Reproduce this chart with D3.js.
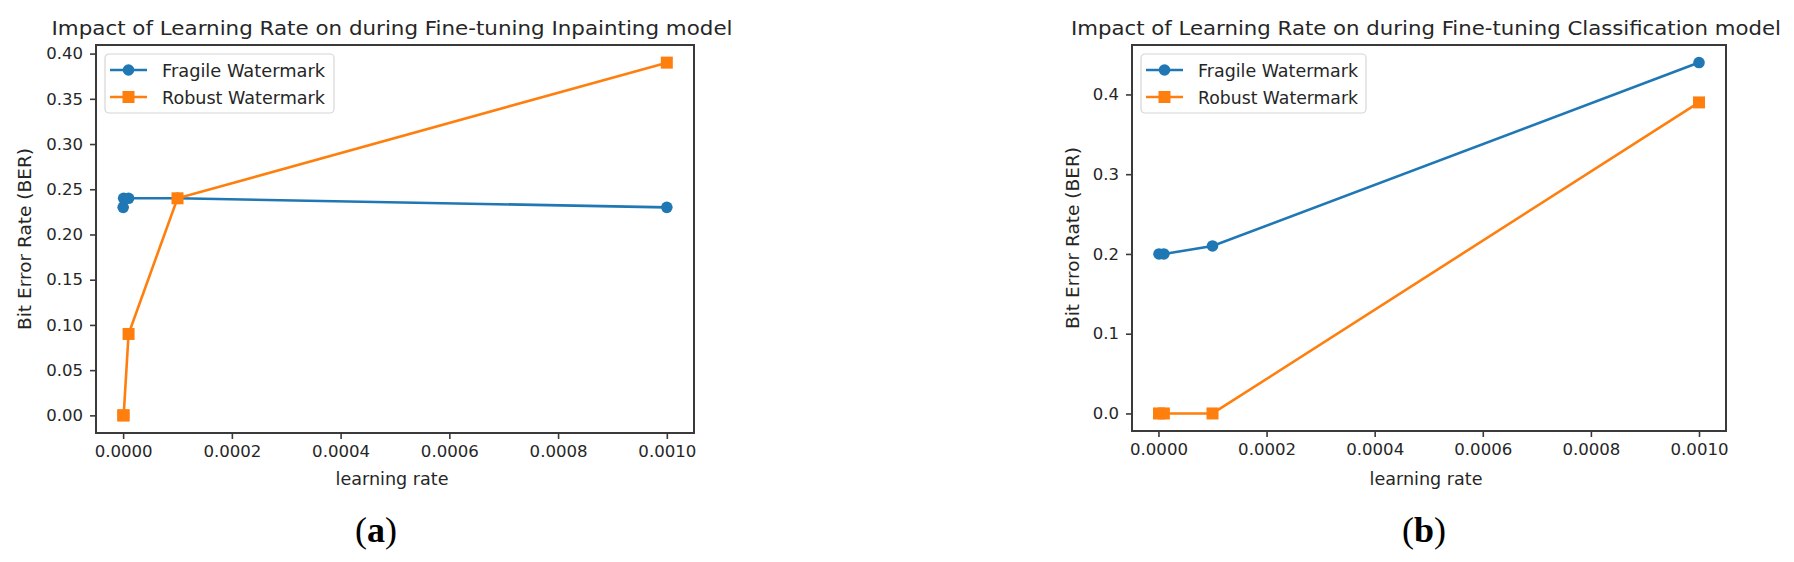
<!DOCTYPE html>
<html>
<head>
<meta charset="utf-8">
<script src="https://cdn.jsdelivr.net/npm/d3@7"></script>
<style>
body { margin: 0; background: #fff; }
.chart text { font-family: "DejaVu Sans", sans-serif; fill: #262626; }
.chart .caption { font-family: "Liberation Serif", serif; fill: #000; }
</style>
</head>
<body>
<div class="chart"></div>
<script>
// panel (a): inpainting model
var lrInpaint = [0.0000001, 0.000001, 0.00001, 0.0001, 0.001];
var fragileInpaint = [0.23, 0.24, 0.24, 0.24, 0.23];
var robustInpaint = [0.0, 0.0, 0.09, 0.24, 0.39];

// panel (b): classification model
var lrClassif = [0.000001, 0.00001, 0.0001, 0.001];
var fragileClassif = [0.20, 0.20, 0.21, 0.44];
var robustClassif = [0.0, 0.0, 0.0, 0.39];

var seriesNames = ["Fragile Watermark", "Robust Watermark"];
var xTicks = [0, 0.0002, 0.0004, 0.0006, 0.0008, 0.0010];
var yTicksInpaint = [0, 0.05, 0.10, 0.15, 0.20, 0.25, 0.30, 0.35, 0.40];
var yTicksClassif = [0, 0.1, 0.2, 0.3, 0.4];

var titles = ["Impact of Learning Rate on during Fine-tuning Inpainting model",
              "Impact of Learning Rate on during Fine-tuning Classification model"];
var captions = ["a", "b"];

var width = 1794, height = 562;
var colors = ["#1f77b4", "#ff7f0e"];
var spine = "#3a3a3a";

var svg = d3.select(".chart")
  .append("svg")
    .attr("width", width)
    .attr("height", height);

// matplotlib style 5% margins on each side
function padDomain(vals) {
    var lo = d3.min(vals), hi = d3.max(vals);
    var m = (hi - lo) * 0.05;
    return [lo - m, hi + m];
}

// the source figure is a bit stretched: taller glyphs, text squeezed to a given length
function fitText(sel, len) {
    sel.attr("textLength", len).attr("lengthAdjust", "spacingAndGlyphs");
}

function drawPanel(opt) {
    var x = d3.scaleLinear().domain(padDomain(opt.lr)).range([opt.left, opt.right]);
    var y = d3.scaleLinear().domain(padDomain(opt.series[0].concat(opt.series[1]))).range([opt.bottom, opt.top]);
    var g = svg.append("g");

    var xAxis = g.append("g")
        .attr("transform", "translate(0," + opt.bottom + ")")
        .call(d3.axisBottom(x).tickValues(xTicks).tickFormat(d3.format(".4f")).tickSize(6).tickPadding(6));
    var yAxis = g.append("g")
        .attr("transform", "translate(" + opt.left + ",0)")
        .call(d3.axisLeft(y).tickValues(opt.yTicks).tickFormat(d3.format(opt.yFormat)).tickSize(6).tickPadding(7));
    [xAxis, yAxis].forEach(function(a) {
        a.select(".domain").remove();
        a.selectAll("line").attr("stroke", spine).attr("stroke-width", 1.6);
        a.selectAll("text").style("font-size", "16.5px").attr("fill", "#262626");
    });
    xAxis.selectAll("text").each(function() { fitText(d3.select(this), 58); });

    // frame
    g.append("rect")
        .attr("x", opt.left)
        .attr("y", opt.top)
        .attr("width", opt.right - opt.left)
        .attr("height", opt.bottom - opt.top)
        .attr("fill", "none")
        .attr("stroke", spine)
        .attr("stroke-width", 2);

    var line = d3.line()
        .x(function(d) { return x(d[0]); })
        .y(function(d) { return y(d[1]); });

    opt.series.forEach(function(vals, k) {
        var pts = opt.lr.map(function(v, i) { return [v, vals[i]]; });
        g.append("path")
            .datum(pts)
            .attr("d", line)
            .attr("fill", "none")
            .attr("stroke", colors[k])
            .attr("stroke-width", 2.6);
        if (k === 0) {
            g.selectAll(".m" + k)
                .data(pts).enter()
                .append("circle")
                .attr("cx", function(d) { return x(d[0]); })
                .attr("cy", function(d) { return y(d[1]); })
                .attr("r", 5.8)
                .attr("fill", colors[k]);
        } else {
            g.selectAll(".m" + k)
                .data(pts).enter()
                .append("rect")
                .attr("x", function(d) { return x(d[0]) - 6; })
                .attr("y", function(d) { return y(d[1]) - 6; })
                .attr("width", 12)
                .attr("height", 12)
                .attr("fill", colors[k]);
        }
    });

    // legend
    var lg = g.append("g").attr("transform", "translate(" + (opt.left + 9) + "," + (opt.top + 9) + ")");
    lg.append("rect")
        .attr("width", opt.legendW)
        .attr("height", 59)
        .attr("rx", 4)
        .attr("fill", "#fff")
        .attr("fill-opacity", 0.8)
        .attr("stroke", "#d6d6d6")
        .attr("stroke-width", 1.2);
    seriesNames.forEach(function(name, k) {
        var ly = 16 + k * 27;
        lg.append("line")
            .attr("x1", 5).attr("x2", 42)
            .attr("y1", ly).attr("y2", ly)
            .attr("stroke", colors[k])
            .attr("stroke-width", 2.6);
        if (k === 0) {
            lg.append("circle").attr("cx", 23.5).attr("cy", ly).attr("r", 5.8).attr("fill", colors[k]);
        } else {
            lg.append("rect").attr("x", 17.5).attr("y", ly - 6).attr("width", 12).attr("height", 12).attr("fill", colors[k]);
        }
        lg.append("text")
            .attr("x", 57)
            .attr("y", ly + 6.5)
            .style("font-size", "18px")
            .text(name)
            .call(fitText, opt.legendText[k]);
    });

    // title and axis labels
    var cx = (opt.left + opt.right) / 2;
    g.append("text")
        .attr("x", cx + opt.titleShift)
        .attr("y", 35)
        .attr("text-anchor", "middle")
        .style("font-size", "20px")
        .text(opt.title)
        .call(fitText, opt.titleW);
    g.append("text")
        .attr("x", cx - 3)
        .attr("y", 485)
        .attr("text-anchor", "middle")
        .style("font-size", "17.5px")
        .text("learning rate")
        .call(fitText, 113);
    g.append("text")
        .attr("transform", "translate(" + opt.ylabelX + "," + ((opt.top + opt.bottom) / 2) + ") rotate(-90)")
        .attr("text-anchor", "middle")
        .style("font-size", "17px")
        .text("Bit Error Rate (BER)")
        .call(fitText, 182);

    // sub-figure caption
    var cap = g.append("text")
        .attr("class", "caption")
        .attr("x", opt.capX)
        .attr("y", 542)
        .attr("text-anchor", "middle")
        .style("font-size", "36px");
    cap.append("tspan").text("(");
    cap.append("tspan").style("font-weight", "bold").text(opt.caption);
    cap.append("tspan").text(")");
}

drawPanel({
    lr: lrInpaint, series: [fragileInpaint, robustInpaint],
    left: 96, right: 694, top: 45, bottom: 433,
    yTicks: yTicksInpaint, yFormat: ".2f",
    title: titles[0], titleW: 681, titleShift: -3,
    ylabelX: 31, legendW: 229, legendText: [163, 163],
    capX: 376, caption: captions[0]
});

drawPanel({
    lr: lrClassif, series: [fragileClassif, robustClassif],
    left: 1132, right: 1726, top: 45, bottom: 431,
    yTicks: yTicksClassif, yFormat: ".1f",
    title: titles[1], titleW: 710, titleShift: -3,
    ylabelX: 1079, legendW: 225, legendText: [160, 160],
    capX: 1424, caption: captions[1]
});
</script>
</body>
</html>
